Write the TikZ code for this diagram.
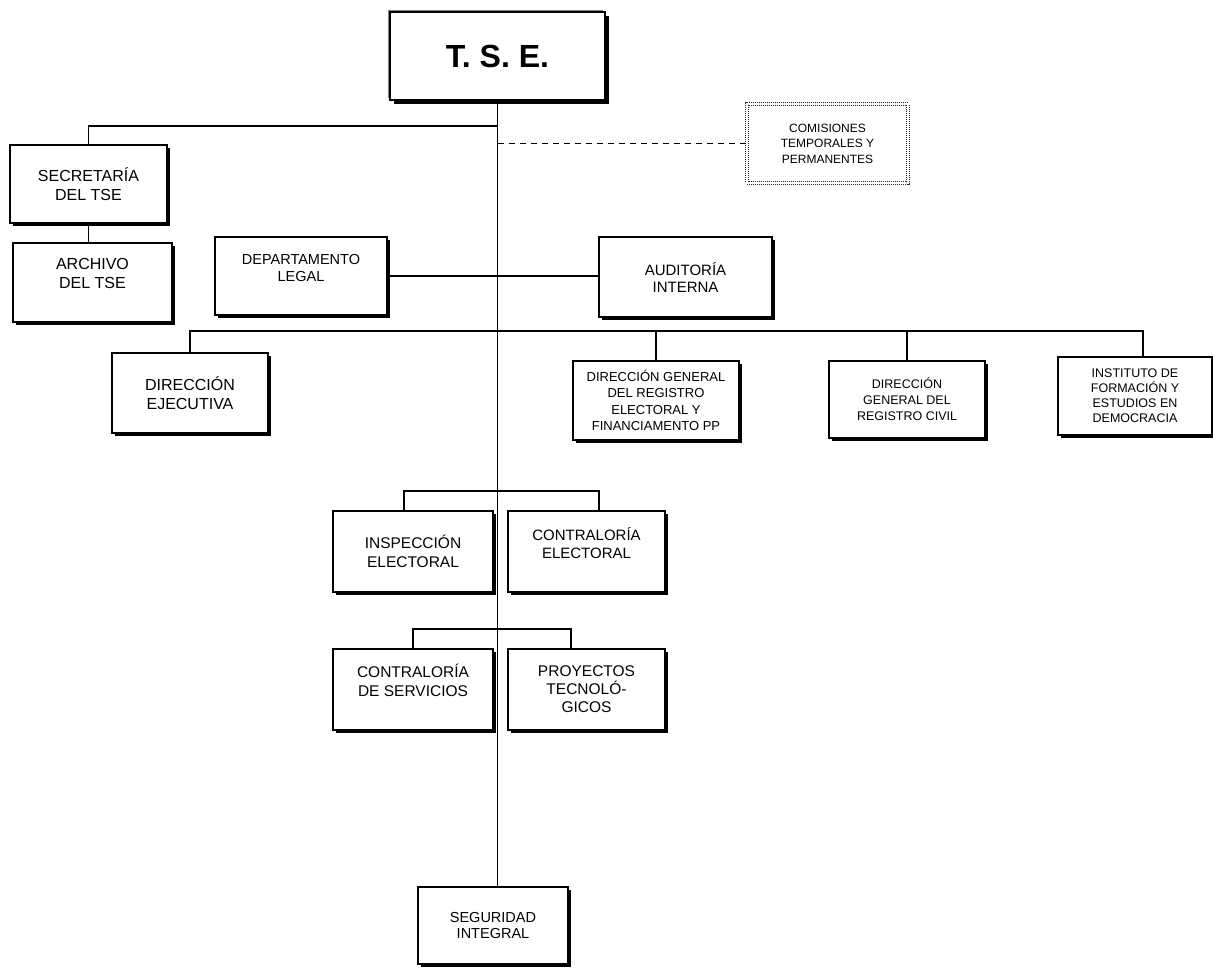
\documentclass[tikz,border=0pt]{standalone}
\usepackage{fontspec}
\setmainfont{Liberation Sans}
\usetikzlibrary{shadows}

\begin{document}
\begin{tikzpicture}[x=1pt,y=-1pt,
  unit/.style={draw, fill=white, line width=1.3pt, align=center, inner sep=0pt,
    general shadow={shadow xshift=-1.5pt, shadow yshift=1.5pt, fill=black!50},
    general shadow={shadow xshift=2.5pt, shadow yshift=-2.5pt, fill=black}},
  top/.style={draw, fill=white, line width=1.5pt, align=center, inner sep=0pt,
    general shadow={shadow xshift=-2pt, shadow yshift=2pt, fill=black!50},
    general shadow={shadow xshift=4pt, shadow yshift=-4pt, fill=black}},
  board/.style={draw=black!85, densely dotted, line width=1pt, double=white,
    double distance=2.2pt, fill=white, align=center, inner sep=0pt},
  link/.style={line width=1.6pt},
  dashline/.style={line width=1.6pt, dash pattern=on 6pt off 5pt}]
  \useasboundingbox (0,0) rectangle (1213,967);

  \node[top, minimum width=215pt, minimum height=88pt,
    font=\fontsize{32}{36}\selectfont\bfseries] (tse) at (497.5,56) {T. S. E.};
  \node[board, minimum width=161pt, minimum height=79pt,
    font=\fontsize{12}{15.5}\selectfont] (com) at (827.5,143.5)
    {COMISIONES\\TEMPORALES Y\\PERMANENTES};

  \node[unit, minimum width=157pt, minimum height=78pt,
    font=\fontsize{16}{19}\selectfont] (sec) at (88.5,184) {SECRETARÍA\\DEL TSE};
  \node[unit, minimum width=159pt, minimum height=79pt,
    font=\fontsize{16}{19}\selectfont] (arch) at (92.5,282.5) {ARCHIVO\\DEL TSE\\\mbox{}};
  \node[unit, minimum width=172pt, minimum height=78pt,
    font=\fontsize{14.5}{16.5}\selectfont] (dep) at (301,276) {DEPARTAMENTO\\LEGAL\\\mbox{}};
  \node[unit, minimum width=173pt, minimum height=80pt,
    font=\fontsize{15}{17}\selectfont] (aud) at (685.5,277) {AUDITORÍA\\INTERNA};

  \node[unit, minimum width=156pt, minimum height=80pt,
    font=\fontsize{16}{18.5}\selectfont] (dej) at (190,393) {DIRECCIÓN\\EJECUTIVA};
  \node[unit, minimum width=166pt, minimum height=79pt,
    font=\fontsize{13}{16.5}\selectfont] (dge) at (656,400.5)
    {DIRECCIÓN GENERAL\\DEL REGISTRO\\ELECTORAL Y\\FINANCIAMENTO PP};
  \node[unit, minimum width=156pt, minimum height=77pt,
    font=\fontsize{12.5}{16}\selectfont] (dgc) at (907,399.5)
    {DIRECCIÓN\\GENERAL DEL\\REGISTRO CIVIL};
  \node[unit, minimum width=154pt, minimum height=78pt,
    font=\fontsize{12.5}{15}\selectfont] (ins) at (1135,396)
    {INSTITUTO DE\\FORMACIÓN Y\\ESTUDIOS EN\\DEMOCRACIA};

  \node[unit, minimum width=160pt, minimum height=81pt,
    font=\fontsize{15.5}{18.5}\selectfont] (insp) at (413,551.5) {INSPECCIÓN\\ELECTORAL};
  \node[unit, minimum width=157pt, minimum height=81pt,
    font=\fontsize{15}{17.5}\selectfont] (cel) at (586.5,551.5) {CONTRALORÍA\\ELECTORAL\\\mbox{}};
  \node[unit, minimum width=160pt, minimum height=81pt,
    font=\fontsize{15.5}{19}\selectfont] (cse) at (413,689.5) {CONTRALORÍA\\DE SERVICIOS\\\mbox{}};
  \node[unit, minimum width=157pt, minimum height=81pt,
    font=\fontsize{15.5}{18}\selectfont] (pro) at (586.5,689.5) {PROYECTOS\\TECNOLÓ-\\GICOS};

  \node[unit, minimum width=150pt, minimum height=77pt,
    font=\fontsize{14.5}{16.5}\selectfont] (seg) at (493,925.5) {SEGURIDAD\\INTEGRAL};

  % trunk and its branches
  \coordinate (bus1) at (497.5,126);
  \coordinate (bus3) at (497.5,331);
  \coordinate (bus4) at (497.5,491);
  \coordinate (bus5) at (497.5,629);
  \draw[link] (tse.south) -- (tse.south |- seg.north);
  \draw[link] (bus1) -| (sec.north);
  \draw[link] (sec.south) -- (sec.south |- arch.north);
  \draw[dashline] (tse.south |- com.west) -- (com.west);
  \draw[link] (dep.east) -- (dep.east -| aud.west);
  \draw[link] (dej.north) |- ([xshift=8pt]ins.north |- bus3) -- ([xshift=8pt]ins.north);
  \draw[link] (dge.north) -- (dge.north |- bus3);
  \draw[link] (dgc.north) -- (dgc.north |- bus3);
  \draw[link] ([xshift=-9pt]insp.north) |- (bus4) -| ([xshift=12.5pt]cel.north);
  \draw[link] (cse.north) |- (bus5) -| ([xshift=-15.5pt]pro.north);
\end{tikzpicture}
\end{document}
